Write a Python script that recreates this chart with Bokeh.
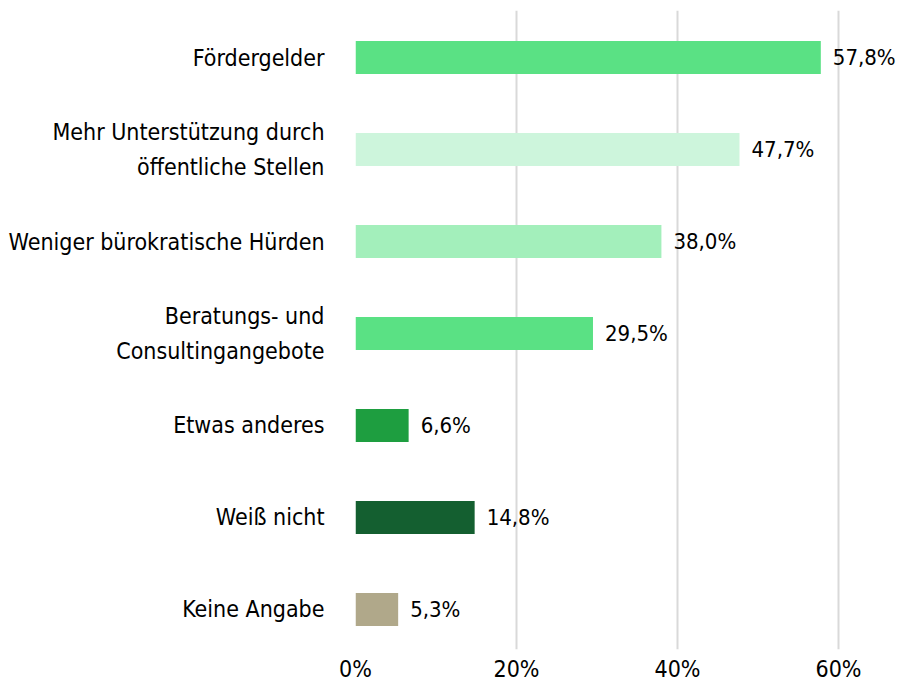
from bokeh.plotting import figure
from bokeh.models import ColumnDataSource, Range1d, FixedTicker, LabelSet
from bokeh.core.properties import value
from bokeh.embed import file_html
from bokeh.resources import INLINE

categories = [
    "Fördergelder",
    "Mehr Unterstützung durch\nöffentliche Stellen",
    "Weniger bürokratische Hürden",
    "Beratungs- und\nConsultingangebote",
    "Etwas anderes",
    "Weiß nicht",
    "Keine Angabe",
]
values = [57.8, 47.7, 38.0, 29.5, 6.6, 14.8, 5.3]
value_labels = ["57,8%", "47,7%", "38,0%", "29,5%", "6,6%", "14,8%", "5,3%"]
colors = ["#5ae184", "#cdf5dc", "#a3efbb", "#5ae184", "#1e9e40", "#145f30", "#b0a88a"]
ticks = [0, 20, 40, 60]
tick_labels = ["0%", "20%", "40%", "60%"]

FONT = "DejaVu Sans Condensed"

ypos = list(range(len(categories)))
src = ColumnDataSource(dict(y=ypos, v=values, lab=value_labels, c=colors))

p = figure(width=898, height=684, output_backend="svg", toolbar_location=None,
           x_range=Range1d(0, 67.45), y_range=Range1d(6.435, -0.511),
           min_border_left=355, min_border_right=0, min_border_top=10, min_border_bottom=0)
p.outline_line_color = None
p.background_fill_color = "white"
p.border_fill_color = "white"

p.hbar(y="y", left=0, right="v", height=0.36, color="c", source=src, line_color=None)

p.ygrid.visible = False
p.xgrid.ticker = FixedTicker(ticks=ticks)
p.xgrid.grid_line_color = "#d9d9d9"
p.xgrid.grid_line_width = 2

ya = p.yaxis[0]
ya.ticker = FixedTicker(ticks=ypos)
ya.major_label_overrides = {i: c for i, c in zip(ypos, categories)}
ya.axis_line_color = None
ya.major_tick_line_color = None
ya.minor_tick_line_color = None
ya.major_label_standoff = 25
ya.major_label_text_font = FONT
ya.major_label_text_font_size = "23px"
ya.major_label_text_color = "black"
ya.major_label_text_line_height = 1.35

xa = p.xaxis[0]
xa.ticker = FixedTicker(ticks=ticks)
xa.major_label_overrides = {t: l for t, l in zip(ticks, tick_labels)}
xa.axis_line_color = None
xa.major_tick_line_color = None
xa.minor_tick_line_color = None
xa.major_label_standoff = 0
xa.major_label_text_font = FONT
xa.major_label_text_font_size = "23px"
xa.major_label_text_color = "black"

p.add_layout(LabelSet(x="v", y="y", text="lab", source=src, x_offset=12,
                      text_align="left", text_baseline="middle",
                      text_font=value(FONT), text_font_size=value("22px"),
                      text_color="black"))

open("out.html", "w").write(file_html(p, INLINE))
